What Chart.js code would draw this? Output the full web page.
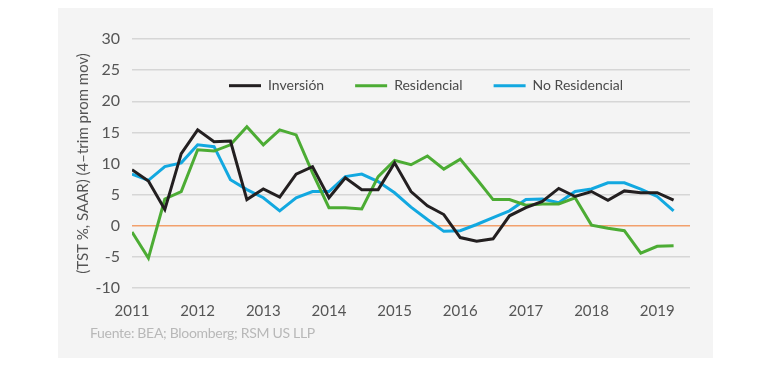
<!DOCTYPE html>
<html>
<head>
<meta charset="utf-8">
<script src="https://cdn.jsdelivr.net/npm/chart.js@4"></script>
<style>
  html, body { margin: 0; padding: 0; background: #fff; }
  body { width: 770px; height: 367px; position: relative; overflow: hidden; font-family: Lato, "Open Sans", sans-serif; }
  #panel { position: absolute; left: 58px; top: 8px; width: 655px; height: 350px; background: #f4f4f4; }
  #chart-wrap { position: absolute; left: 0; top: 0; width: 655px; height: 317px; }
  #source { position: absolute; left: 32px; top: 316px; font-size: 14px; color: #b8b8b8; letter-spacing: -0.3px; }
</style>
</head>
<body>
<div id="panel">
  <div id="chart-wrap"><canvas id="chart"></canvas></div>
  <div id="source">Fuente: BEA; Bloomberg; RSM US LLP</div>
</div>
<script>
// quarterly data, 2011 Q1 .. 2019 Q2
const yearLabels = ['2011', '2012', '2013', '2014', '2015', '2016', '2017', '2018', '2019'];
const seriesNames = ['Inversión', 'Residencial', 'No Residencial'];
const inversion = [9.0, 7.2, 2.6, 11.6, 15.4, 13.5, 13.6, 4.2, 5.9, 4.6, 8.3, 9.5, 4.5, 7.7, 5.8, 5.8, 10.1,
    5.5, 3.2, 1.8, -1.9, -2.5, -2.1, 1.6, 2.9, 3.9, 6.0, 4.7, 5.5, 4.1, 5.6, 5.3, 5.3, 4.1];
const residencial = [-1.0, -5.2, 4.3, 5.5, 12.2, 12.0, 13.0, 15.9, 13.0, 15.4, 14.6, 8.5, 2.9, 2.9, 2.7, 7.9, 10.5,
    9.8, 11.2, 9.1, 10.7, 7.5, 4.2, 4.2, 3.3, 3.5, 3.5, 4.5, 0.1, -0.4, -0.8, -4.4, -3.3, -3.2];
const noResidencial = [8.3, 7.3, 9.5, 10.1, 13.0, 12.7, 7.4, 5.8, 4.5, 2.4, 4.5, 5.5, 5.5, 7.9, 8.3, 7.1, 5.3,
    3.0, 1.0, -0.9, -0.8, 0.2, 1.3, 2.4, 4.2, 4.3, 3.7, 5.5, 5.9, 6.9, 6.9, 5.9, 4.7, 2.4];
const seriesColors = ['#231f20', '#4cac34', '#12a8e0'];

const toPoints = arr => arr.map((v, i) => ({ x: i, y: v }));

// legend drawn between the 20 and 25 gridlines
const inlineLegend = {
    id: 'inlineLegend',
    afterDraw(chart) {
        const ctx = chart.ctx;
        const y = chart.scales.y.getPixelForValue(22.5);
        let x = 171;
        ctx.save();
        ctx.font = '14px Lato, "Open Sans", sans-serif';
        ctx.textBaseline = 'middle';
        chart.data.datasets.forEach(ds => {
            ctx.strokeStyle = ds.borderColor;
            ctx.lineWidth = 3;
            ctx.beginPath();
            ctx.moveTo(x, y);
            ctx.lineTo(x + 32, y);
            ctx.stroke();
            ctx.fillStyle = '#4a4a4a';
            ctx.fillText(ds.label, x + 39, y);
            x += 39 + ctx.measureText(ds.label).width + 31;
        });
        ctx.restore();
    }
};

new Chart(document.getElementById('chart'), {
    type: 'line',
    data: {
        datasets: [inversion, residencial, noResidencial].map((arr, i) => ({
            label: seriesNames[i],
            data: toPoints(arr),
            borderColor: seriesColors[i],
            backgroundColor: seriesColors[i],
            borderWidth: 3,
            pointRadius: 0,
            tension: 0
        }))
    },
    options: {
        responsive: true,
        maintainAspectRatio: false,
        animation: false,
        layout: { padding: { top: 31, right: 23, bottom: 0, left: 0 } },
        plugins: {
            legend: { display: false },
            tooltip: { enabled: false }
        },
        scales: {
            x: {
                type: 'linear',
                min: 0,
                max: 34,
                afterFit: s => { s.height = 37; },
                grid: { display: false },
                border: { display: false },
                ticks: {
                    stepSize: 4,
                    autoSkip: false,
                    maxRotation: 0,
                    padding: 6,
                    color: '#555',
                    font: { family: 'Lato, "Open Sans", sans-serif', size: 15 },
                    callback: v => (v % 4 === 0 ? yearLabels[v / 4] : null)
                }
            },
            y: {
                min: -10,
                max: 30,
                afterFit: s => { s.width = 74; },
                border: { display: false },
                grid: {
                    drawTicks: false,
                    lineWidth: 1.5,
                    color: c => (c.tick && c.tick.value === 0 ? '#f2a06c' : '#d6d6d6')
                },
                ticks: {
                    stepSize: 5,
                    padding: 12,
                    color: '#555',
                    font: { family: 'Lato, "Open Sans", sans-serif', size: 16 }
                },
                title: {
                    display: true,
                    text: '(TST %, SAAR) (4–trim prom mov)',
                    color: '#555',
                    padding: { top: 16, bottom: 0 },
                    font: { family: 'Lato, "Open Sans", sans-serif', size: 15 }
                }
            }
        }
    },
    plugins: [inlineLegend]
});
</script>
</body>
</html>
